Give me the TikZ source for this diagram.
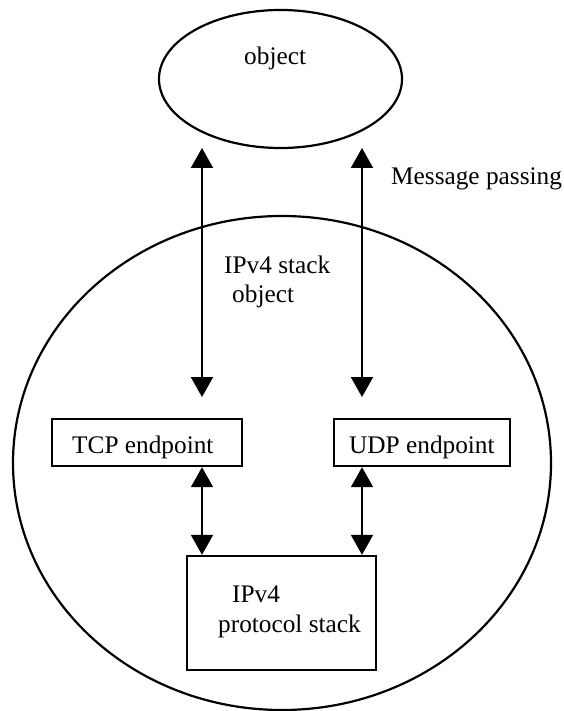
\documentclass[tikz,border=0pt]{standalone}
\usepackage{fontspec}
\setmainfont{Liberation Serif}
\usetikzlibrary{arrows.meta,shapes.geometric}
\begin{document}
\begin{tikzpicture}[x=1pt,y=-1pt,
  ovalshape/.style={draw,line width=2.2pt,inner sep=0pt},
  box/.style={draw,line width=2.4pt,inner sep=0pt,minimum height=47pt},
  lbl/.style={inner sep=0pt,anchor=base west,font=\fontsize{25.3}{29}\selectfont},
  conn/.style={line width=2pt,{Triangle[width=22pt,length=20pt]}-{Triangle[width=22pt,length=20pt]}}]
\useasboundingbox (0,0) rectangle (563,711);
% outer stack object
\node[ovalshape,ellipse,minimum width=538pt,minimum height=494pt] (stack) at (282,463) {};
% object ellipse
\node[ovalshape,ellipse,minimum width=243pt,minimum height=138pt] (obj) at (280.5,79) {};
\node[lbl] (objlbl) at (244,65) {object};
% boxes
\node[box,minimum width=190pt] (tcp) at (147,442.5) {};
\node[lbl] (tcplbl) at (72,453) {TCP endpoint};
\node[box,minimum width=176pt] (udp) at (422,442.5) {};
\node[lbl] (udplbl) at (349,453) {UDP endpoint};
\node[box,minimum width=189pt,minimum height=114pt] (ip) at (281.5,613) {};
\node[lbl] (iplbl1) at (232,602) {IPv4};
\node[lbl] (iplbl2) at (218,632) {protocol stack};
% labels
\node[lbl] (stacklbl1) at (224,273) {IPv4 stack};
\node[lbl] (stacklbl2) at (232,302) {object};
\node[lbl] (msglbl) at (391,185) {Message passing};
% connector end points
\coordinate (a1) at (202,148);
\coordinate (a2) at (202,397);
\coordinate (b1) at (362,148);
\coordinate (b2) at (362,397);
\draw[conn] (a1) -- (a2);
\draw[conn] (b1) -- (b2);
\draw[conn] (tcp.south -| a1) -- (ip.north -| a1);
\draw[conn] (udp.south -| b1) -- (ip.north -| b1);
\end{tikzpicture}
\end{document}
